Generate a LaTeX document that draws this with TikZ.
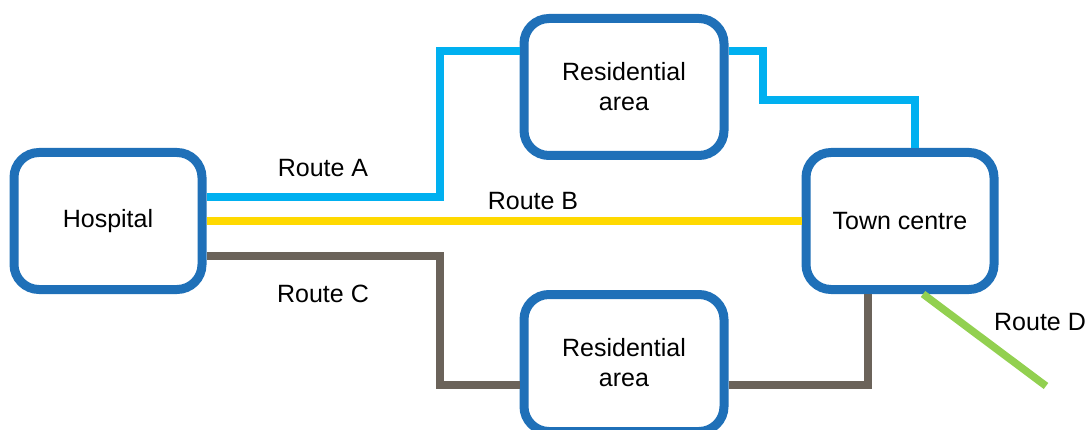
\documentclass[tikz,border=0pt]{standalone}
\usepackage{fontspec}
\setmainfont{Liberation Sans}
\usetikzlibrary{positioning,calc}
\definecolor{myboxblue}{RGB}{31,112,184}
\definecolor{myroutea}{RGB}{0,176,240}
\definecolor{myrouteb}{RGB}{255,217,0}
\definecolor{myroutec}{RGB}{107,99,90}
\definecolor{myrouted}{RGB}{146,208,80}

\begin{document}
\begin{tikzpicture}[
  x=1pt,y=-1pt,
  font=\fontsize{25}{30}\selectfont,
  myplace/.style={
    draw=myboxblue,
    line width=9pt,
    fill=white,
    rounded corners=25pt,
    align=center,
    minimum width=#1,
    minimum height=137pt
    },
  myroute/.style={
    line width=7.5pt,
    draw=#1
    },
  mylabel/.style={
    inner sep=0pt
    }
]
\useasboundingbox (0,0) rectangle (1089,430);

\node[myplace=188pt] (hospital) at (108,221) {Hospital};
\node[myplace=200pt] (resA) at (624,87) {Residential\\area};
\node[myplace=200pt] (resC) at (624,363) {Residential\\area};
\node[myplace=188pt] (town) at (900,221) {Town centre};
\coordinate (dEnd) at (1046,386);

% Route A
\draw[myroute=myroutea]
  ([yshift=24pt]hospital.east) -- (440,197) -- (440,51) -- ([yshift=36pt]resA.west);
\draw[myroute=myroutea]
  ([yshift=36pt]resA.east) -- (763,51) -- (763,100) -- (915,100) -- ([xshift=15pt]town.north);
% Route B
\draw[myroute=myrouteb] (hospital.east) -- (town.west);
% Route C
\draw[myroute=myroutec]
  ([yshift=-35pt]hospital.east) -- (440,256) -- (440,385) -- ([yshift=-22pt]resC.west);
\draw[myroute=myroutec]
  ([yshift=-22pt]resC.east) -- (868,385) -- ([xshift=-32pt]town.south);
% Route D
\draw[myroute=myrouted] ([xshift=23pt]town.south) -- (dEnd);

\node[mylabel] (labelA) at (323,168) {Route A};
\node[mylabel] (labelB) at (533,201) {Route B};
\node[mylabel] (labelC) at (323,294) {Route C};
\node[mylabel] (labelD) at (1040,322) {Route D};
\end{tikzpicture}
\end{document}
